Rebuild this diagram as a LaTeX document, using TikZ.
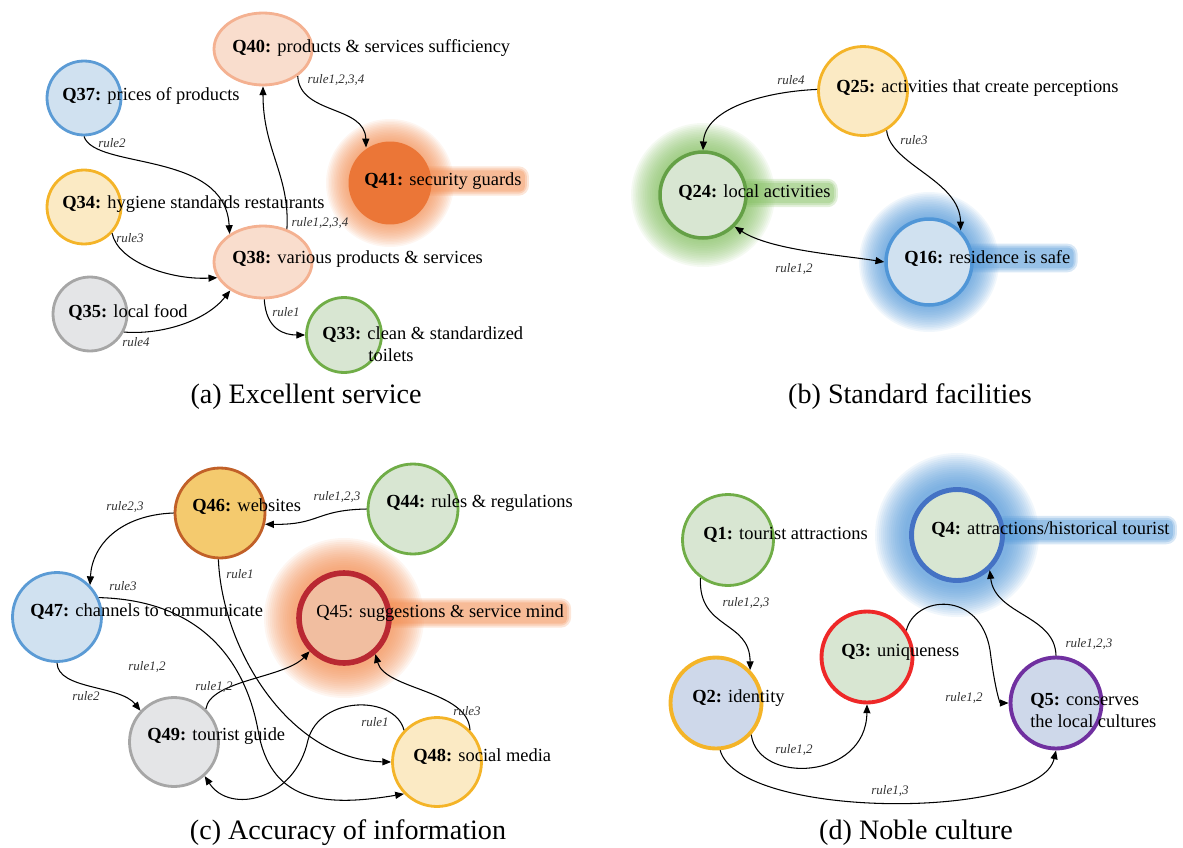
\documentclass[tikz,border=0pt]{standalone}
\usepackage{fontspec}
\setmainfont{Liberation Serif}
\usepackage{tikz}
\usetikzlibrary{arrows.meta, shapes.geometric, backgrounds}
\definecolor{blueline}{RGB}{91,155,213}
\definecolor{bluefill}{RGB}{208,225,240}
\definecolor{goldline}{RGB}{244,180,40}
\definecolor{goldfill}{RGB}{251,234,196}
\definecolor{greyline}{RGB}{166,166,166}
\definecolor{greyfill}{RGB}{228,229,231}
\definecolor{greenline}{RGB}{112,173,71}
\definecolor{darkgreen}{RGB}{100,160,70}
\definecolor{greenfill}{RGB}{216,230,210}
\definecolor{salmonline}{RGB}{244,177,145}
\definecolor{salmonfill}{RGB}{249,221,205}
\definecolor{orangefill}{RGB}{235,118,55}
\definecolor{orangeglow}{RGB}{242,140,80}
\definecolor{webline}{RGB}{193,96,40}
\definecolor{webfill}{RGB}{244,202,110}
\definecolor{redline}{RGB}{185,40,50}
\definecolor{peachfill}{RGB}{241,190,160}
\definecolor{navyline}{RGB}{68,114,196}
\definecolor{brightred}{RGB}{238,40,40}
\definecolor{greyblue}{RGB}{206,216,234}
\definecolor{purpleline}{RGB}{112,48,160}
\definecolor{greenglow}{RGB}{130,190,95}
\definecolor{blueglow}{RGB}{80,150,215}

\newcommand{\qfont}{\fontsize{10.5}{12.5}\selectfont}
\newcommand{\rulefont}{\fontsize{7.4}{8}\selectfont\itshape}
\newcommand{\captfont}{\fontsize{16}{18}\selectfont}
% soft halo round a circle and behind its text
\newcommand{\glowring}[3]{\foreach \k in {0,...,15}{\fill[#2, opacity=0.08] (#1) circle ({#3*(1-0.024*\k)});}}
\newcommand{\glowband}[2]{%
  \fill[#2, opacity=0.22, rounded corners=6pt] ([shift={(-2,6)}]#1.south west) rectangle ([shift={(7,-6)}]#1.north east);
  \fill[#2, opacity=0.25, rounded corners=5pt] ([shift={(-1,4)}]#1.south west) rectangle ([shift={(5,-4)}]#1.north east);
  \fill[#2, opacity=0.3, rounded corners=3pt] ([shift={(0,2)}]#1.south west) rectangle ([shift={(3,-2)}]#1.north east);}

\begin{document}
\begin{tikzpicture}[x=0.02cm, y=-0.02cm,
    >={Triangle[length=5pt,width=4pt]},
    qnode/.style={circle, inner sep=0pt, line width=1.6pt},
    qtext/.style={anchor=west, inner sep=0pt, font=\qfont},
    rulelbl/.style={font=\rulefont, text=black!80, inner sep=0pt},
    capt/.style={font=\captfont},
    link/.style={->, line width=0.6pt}]
    \useasboundingbox (0,0) rectangle (1183,848);

    % (a) Excellent service
    \node[qnode, ellipse, draw=salmonline, fill=salmonfill, minimum width=1.96cm, minimum height=1.44cm] (q40) at (263,49) {};
    \node[qnode, draw=blueline, fill=bluefill, minimum size=1.48cm] (q37) at (84,98) {};
    \node[qnode, draw=goldline, fill=goldfill, minimum size=1.48cm] (q34) at (84,207) {};
    \node[qnode, draw=greyline, fill=greyfill, minimum size=1.48cm] (q35) at (90,314) {};
    \node[qnode, ellipse, draw=salmonline, fill=salmonfill, minimum width=1.96cm, minimum height=1.44cm] (q38) at (263,262) {};
    \node[qnode, fill=orangefill, minimum size=1.66cm] (q41) at (390,183) {};
    \node[qnode, draw=greenline, fill=greenfill, minimum size=1.5cm] (q33) at (344,335) {};

    \node[qtext] (q40t) at (232,48) {\textbf{Q40:} products \& services sufficiency};
    \node[qtext] (q37t) at (62,96) {\textbf{Q37:} prices of products};
    \node[qtext] (q34t) at (62,204) {\textbf{Q34:} hygiene standards restaurants};
    \node[qtext] (q35t) at (68,312) {\textbf{Q35:} local food};
    \node[qtext] (q38t) at (232,259) {\textbf{Q38:} various products \& services};
    \node[qtext] (q41t) at (364,181) {\textbf{Q41:} security guards};
    \node[qtext, align=left] (q33t) at (322,344) {\textbf{Q33:} clean \& standardized\\\hspace*{2.5em}toilets};

    \draw[link] (q37.-90) .. controls (95,170) and (225,150) .. (q38.140);
    \draw[link] (q34.-43) .. controls (118,262) and (170,280) .. (q38.199);
    \draw[link] (q35.-28) .. controls (160,335) and (205,322) .. (q38.221);
    \draw[link] (q38.54) .. controls (290,175) and (263,150) .. (q40.south);
    \draw[link] (q40.-38) .. controls (300,115) and (365,105) .. (q41.124);
    \draw[link] (q38.-88) .. controls (266,330) and (285,335) .. (q33.west);

    \node[rulelbl] (ra1) at (336,80) {rule1,2,3,4};
    \node[rulelbl] (ra2) at (112,143) {rule2};
    \node[rulelbl] (ra3) at (130,238) {rule3};
    \node[rulelbl] (ra4) at (320,223) {rule1,2,3,4};
    \node[rulelbl] (ra5) at (136,342) {rule4};
    \node[rulelbl] (ra6) at (286,312) {rule1};
    \node[capt] (capa) at (306,397) {(a) Excellent service};

    % (b) Standard facilities
    \node[qnode, draw=goldline, fill=goldfill, minimum size=1.78cm] (q25) at (863,91) {};
    \node[qnode, draw=darkgreen, fill=greenfill, minimum size=1.72cm, line width=2pt] (q24) at (703,195) {};
    \node[qnode, draw=blueglow, fill=bluefill, minimum size=1.72cm, line width=2pt] (q16) at (929,262) {};

    \node[qtext] (q25t) at (836,88) {\textbf{Q25:} activities that create perceptions};
    \node[qtext] (q24t) at (678,193) {\textbf{Q24:} local activities};
    \node[qtext] (q16t) at (904,258) {\textbf{Q16:} residence is safe};

    \draw[link] (q25.178) .. controls (760,92) and (705,110) .. (q24.north);
    \draw[link] (q25.-59) .. controls (890,165) and (960,180) .. (q16.45);
    \draw[link, <->] (q24.-45) .. controls (770,250) and (840,255) .. (q16.west);

    \node[rulelbl] (rb1) at (791,80) {rule4};
    \node[rulelbl] (rb2) at (914,140) {rule3};
    \node[rulelbl] (rb3) at (794,269) {rule1,2};
    \node[capt] (capb) at (910,397) {(b) Standard facilities};

    % (c) Accuracy of information
    \node[qnode, draw=webline, fill=webfill, minimum size=1.8cm] (q46) at (220,513) {};
    \node[qnode, draw=greenline, fill=greenfill, minimum size=1.8cm] (q44) at (413,509) {};
    \node[qnode, draw=blueline, fill=bluefill, minimum size=1.78cm] (q47) at (57,617) {};
    \node[qnode, draw=redline, fill=peachfill, minimum size=1.8cm, line width=3.2pt] (q45) at (344,618) {};
    \node[qnode, draw=greyline, fill=greyfill, minimum size=1.78cm] (q49) at (174,742) {};
    \node[qnode, draw=goldline, fill=goldfill, minimum size=1.78cm] (q48) at (437,762) {};

    \node[qtext] (q46t) at (192,507) {\textbf{Q46:} websites};
    \node[qtext] (q44t) at (386,503) {\textbf{Q44:} rules \& regulations};
    \node[qtext] (q47t) at (30,612) {\textbf{Q47:} channels to communicate};
    \node[qtext] (q45t) at (316,613) {Q45: suggestions \& service mind};
    \node[qtext] (q49t) at (147,736) {\textbf{Q49:} tourist guide};
    \node[qtext] (q48t) at (413,757) {\textbf{Q48:} social media};

    \draw[link] (q44.west) .. controls (315,510) and (320,525) .. (q46.-14);
    \draw[link] (q46.west) .. controls (120,515) and (92,545) .. (q47.44);
    \draw[link] (q46.-92) .. controls (222,650) and (290,760) .. (q48.west);
    \draw[link] (q47.25) .. controls (200,600) and (245,660) .. (258,730) .. controls (270,800) and (320,808) .. (q48.224);
    \draw[link] (q47.-90) .. controls (58,690) and (120,685) .. (q49.137);
    \draw[link] (q49.46) .. controls (210,680) and (285,678) .. (q45.224);
    \draw[link] (q48.136) .. controls (395,695) and (320,695) .. (308,740) .. controls (295,800) and (230,815) .. (q49.-48);
    \draw[link] (q48.44) .. controls (468,690) and (385,690) .. (q45.-49);

    \node[rulelbl] (rc1) at (337,497) {rule1,2,3};
    \node[rulelbl] (rc2) at (125,507) {rule2,3};
    \node[rulelbl] (rc3) at (240,574) {rule1};
    \node[rulelbl] (rc4) at (123,586) {rule3};
    \node[rulelbl] (rc5) at (147,667) {rule1,2};
    \node[rulelbl] (rc6) at (86,696) {rule2};
    \node[rulelbl] (rc7) at (214,687) {rule1,2};
    \node[rulelbl] (rc8) at (375,722) {rule1};
    \node[rulelbl] (rc9) at (467,711) {rule3};
    \node[capt] (capc) at (348,833) {(c) Accuracy of information};

    % (d) Noble culture
    \node[qnode, draw=greenline, fill=greenfill, minimum size=1.82cm] (q1) at (728,540) {};
    \node[qnode, draw=navyline, fill=greenfill, minimum size=1.82cm, line width=2.8pt] (q4) at (957,535) {};
    \node[qnode, draw=brightred, fill=greenfill, minimum size=1.82cm, line width=2.2pt] (q3) at (867,657) {};
    \node[qnode, draw=goldline, fill=greyblue, minimum size=1.82cm, line width=2.2pt] (q2) at (716,703) {};
    \node[qnode, draw=purpleline, fill=greyblue, minimum size=1.82cm, line width=2.2pt] (q5) at (1056,703) {};

    \node[qtext] (q1t) at (703,535) {\textbf{Q1:} tourist attractions};
    \node[qtext] (q4t) at (931,530) {\textbf{Q4:} attractions/historical tourist};
    \node[qtext] (q3t) at (841,652) {\textbf{Q3:} uniqueness};
    \node[qtext] (q2t) at (692,698) {\textbf{Q2:} identity};
    \node[qtext, align=left] (q5t) at (1030,710) {\textbf{Q5:} conserves\\the local cultures};

    \draw[link] (q1.234) .. controls (698,630) and (750,620) .. (q2.44);
    \draw[link] (q2.-42) .. controls (758,785) and (866,780) .. (q3.south);
    \draw[link] (q3.34) .. controls (915,595) and (980,590) .. (990,650) .. controls (995,690) and (1000,703) .. (q5.west);
    \draw[link] (q5.north) .. controls (1055,615) and (995,615) .. (q4.-47);
    \draw[link] (q2.-85) .. controls (740,820) and (1040,820) .. (q5.south);

    \node[rulelbl] (rd1) at (746,603) {rule1,2,3};
    \node[rulelbl] (rd2) at (794,750) {rule1,2};
    \node[rulelbl] (rd3) at (964,698) {rule1,2};
    \node[rulelbl] (rd4) at (1089,644) {rule1,2,3};
    \node[rulelbl] (rd5) at (890,791) {rule1,3};
    \node[capt] (capd) at (916,833) {(d) Noble culture};

    % halos
    \begin{scope}[on background layer]
        \glowring{q41}{orangeglow}{64}
        \glowband{q41t}{orangeglow}
        \glowring{q24}{greenglow}{72}
        \glowband{q24t}{greenglow}
        \glowring{q16}{blueglow}{70}
        \glowband{q16t}{blueglow}
        \glowring{q45}{orangeglow}{80}
        \glowband{q45t}{orangeglow}
        \glowring{q4}{blueglow}{82}
        \glowband{q4t}{blueglow}
    \end{scope}
\end{tikzpicture}
\end{document}
